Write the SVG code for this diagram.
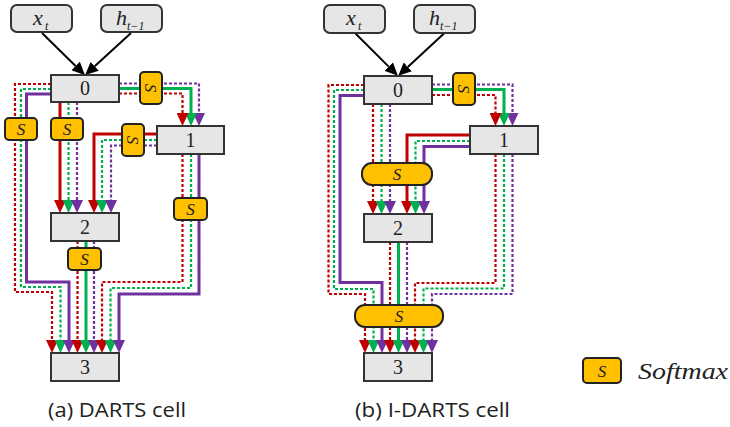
<svg xmlns="http://www.w3.org/2000/svg" width="730" height="427" viewBox="0 0 730 427">
<style>
.node rect{fill:#e6e6e6;stroke:#333;stroke-width:2}
.in rect{fill:#e6e6e6;stroke:#333;stroke-width:2}
.lbl{font-family:"Liberation Serif",serif;font-size:20px;fill:#222;text-anchor:middle}
.it{font-family:"Liberation Serif",serif;font-style:italic;fill:#222}
.sm rect{fill:#ffc000;stroke:#222;stroke-width:2}
.sm text{font-family:"Liberation Serif",serif;font-style:italic;font-size:17px;fill:#222;text-anchor:middle}
.e{fill:none}
.r{stroke:#c00000}.g{stroke:#00b050}.p{stroke:#7030a0}
.s{stroke-width:3}
.d{stroke-width:2.2;stroke-dasharray:3 2}
.r.a{marker-end:url(#ar)}.g.a{marker-end:url(#ag)}.p.a{marker-end:url(#ap)}
.blk{stroke:#000;stroke-width:2;fill:none;marker-end:url(#ab)}
.cap{font-family:"Open Sans","Liberation Sans",sans-serif;font-size:20px;fill:#222}
</style>
<defs>
<marker id="ar" viewBox="0 0 13 12" refX="0" refY="6" markerWidth="13" markerHeight="12" markerUnits="userSpaceOnUse" orient="auto"><path d="M0,0 L13,6 L0,12 z" fill="#c00000"/></marker>
<marker id="ag" viewBox="0 0 13 12" refX="0" refY="6" markerWidth="13" markerHeight="12" markerUnits="userSpaceOnUse" orient="auto"><path d="M0,0 L13,6 L0,12 z" fill="#00b050"/></marker>
<marker id="ap" viewBox="0 0 13 12" refX="0" refY="6" markerWidth="13" markerHeight="12" markerUnits="userSpaceOnUse" orient="auto"><path d="M0,0 L13,6 L0,12 z" fill="#7030a0"/></marker>
<marker id="ab" viewBox="0 0 13 12" refX="0" refY="6" markerWidth="13" markerHeight="12" markerUnits="userSpaceOnUse" orient="auto"><path d="M0,0 L13,6 L0,12 z" fill="#000"/></marker>
</defs>

<g id="connectors">
  <!-- (a) inputs -->
  <path class="blk" d="M42,33 L75.6,66"/>
  <path class="blk" d="M131,33 L94.7,66.3"/>
  <!-- (a) 0->1 -->
  <path class="e p d a" d="M119,83.5 H199 V113"/>
  <path class="e g s a" d="M119,88.5 H191 V113"/>
  <path class="e r d a" d="M119,93.5 H182.5 V113"/>
  <!-- (a) 0->2 -->
  <path class="e r s a" d="M60,102 V200"/>
  <path class="e g d a" d="M68.5,102 V200"/>
  <path class="e p d a" d="M77,102 V200"/>
  <!-- (a) 1->2 -->
  <path class="e r s a" d="M157,134 H94 V200"/>
  <path class="e g d a" d="M157,140 H102 V200"/>
  <path class="e p d a" d="M157,145.5 H111 V200"/>
  <!-- (a) 0->3 -->
  <path class="e r d a" d="M51,84 H15 V292 H52 V340"/>
  <path class="e g d a" d="M51,89 H21 V287 H60.5 V340"/>
  <path class="e p s a" d="M51,94 H26.5 V282 H69 V340"/>
  <!-- (a) 2->3 -->
  <path class="e r d a" d="M77.5,241 V340"/>
  <path class="e g s a" d="M86,241 V340"/>
  <path class="e p d a" d="M94,241 V340"/>
  <!-- (a) 1->3 -->
  <path class="e r d a" d="M182.5,154 V282 H102 V340"/>
  <path class="e g d a" d="M191,154 V288 H110.5 V340"/>
  <path class="e p s a" d="M199,154 V294 H119 V340"/>

  <!-- (b) inputs -->
  <path class="blk" d="M355,33 L388.7,66.6"/>
  <path class="blk" d="M444.5,33 L407.8,66.9"/>
  <!-- (b) 0->1 -->
  <path class="e p d a" d="M432,84.5 H512.5 V113"/>
  <path class="e g s a" d="M432,89.5 H504 V113"/>
  <path class="e r d a" d="M432,95 H495.5 V113"/>
  <!-- (b) 0->2 -->
  <path class="e r d a" d="M373,104 V201"/>
  <path class="e g d a" d="M381.5,104 V201"/>
  <path class="e p d a" d="M390,104 V201"/>
  <!-- (b) 1->2 -->
  <path class="e r s a" d="M470,135 H407 V201"/>
  <path class="e g d a" d="M470,141 H415.5 V201"/>
  <path class="e p s a" d="M470,146.5 H424 V201"/>
  <!-- (b) 0->3 -->
  <path class="e r d a" d="M364,85 H328.5 V294 H365 V340"/>
  <path class="e g d a" d="M364,90 H334 V289 H373.5 V340"/>
  <path class="e p s a" d="M364,95.5 H340 V282.5 H382 V340"/>
  <!-- (b) 2->3 -->
  <path class="e r d a" d="M390,242 V340"/>
  <path class="e g s a" d="M398.5,242 V340"/>
  <path class="e p d a" d="M407,242 V340"/>
  <!-- (b) 1->3 -->
  <path class="e r d a" d="M495.5,154 V283 H415 V340"/>
  <path class="e g d a" d="M504,154 V288.5 H423.5 V340"/>
  <path class="e p d a" d="M512.5,154 V294 H432 V340"/>
</g>

<!-- (a) nodes -->
<g id="a_xt" class="in"><rect x="11" y="5" width="61" height="27" rx="6"/><text class="it" x="33" y="25" font-size="22">x</text><text class="it" x="45" y="30" font-size="12">t</text></g>
<g id="a_ht" class="in"><rect x="101" y="5" width="61" height="27" rx="6"/><text class="it" x="116" y="25" font-size="22">h</text><text class="it" x="127" y="30" font-size="12">t−1</text></g>
<g id="a_n0" class="node"><rect x="51" y="75" width="68" height="27"/><text class="lbl" x="85" y="95">0</text></g>
<g id="a_n1" class="node"><rect x="157" y="126" width="67" height="28"/><text class="lbl" x="190.5" y="147">1</text></g>
<g id="a_n2" class="node"><rect x="51" y="213" width="68" height="28"/><text class="lbl" x="85" y="234">2</text></g>
<g id="a_n3" class="node"><rect x="51" y="353" width="68" height="28"/><text class="lbl" x="85" y="374">3</text></g>

<!-- (a) softmax -->
<g id="a_s01" class="sm"><rect x="140" y="72" width="22" height="32" rx="4"/><text transform="translate(151,88) rotate(90)" y="6">S</text></g>
<g id="a_s03" class="sm"><rect x="5" y="118" width="32" height="22" rx="4"/><text x="21" y="135">S</text></g>
<g id="a_s02" class="sm"><rect x="51" y="118" width="32" height="22" rx="4"/><text x="67" y="135">S</text></g>
<g id="a_s12" class="sm"><rect x="122" y="124" width="22" height="32" rx="4"/><text transform="translate(133,140) rotate(90)" y="6">S</text></g>
<g id="a_s13" class="sm"><rect x="174" y="198" width="33" height="22" rx="4"/><text x="190.5" y="215">S</text></g>
<g id="a_s23" class="sm"><rect x="68" y="248" width="33" height="22" rx="4"/><text x="84.5" y="265">S</text></g>

<!-- (b) nodes -->
<g id="b_xt" class="in"><rect x="324" y="5" width="61" height="28" rx="6"/><text class="it" x="346" y="25" font-size="22">x</text><text class="it" x="358" y="30" font-size="12">t</text></g>
<g id="b_ht" class="in"><rect x="414" y="5" width="61" height="28" rx="6"/><text class="it" x="429" y="25" font-size="22">h</text><text class="it" x="440" y="30" font-size="12">t−1</text></g>
<g id="b_n0" class="node"><rect x="364" y="76" width="68" height="28"/><text class="lbl" x="398" y="97">0</text></g>
<g id="b_n1" class="node"><rect x="470" y="126" width="68" height="28"/><text class="lbl" x="504" y="147">1</text></g>
<g id="b_n2" class="node"><rect x="364" y="214" width="68" height="28"/><text class="lbl" x="398" y="235">2</text></g>
<g id="b_n3" class="node"><rect x="364" y="353" width="68" height="28"/><text class="lbl" x="398" y="374">3</text></g>

<!-- (b) softmax -->
<g id="b_s01" class="sm"><rect x="453" y="73" width="22" height="32" rx="4"/><text transform="translate(464,89) rotate(90)" y="6">S</text></g>
<g id="b_s2" class="sm"><rect x="362" y="163" width="70" height="22" rx="10"/><text x="397" y="180">S</text></g>
<g id="b_s3" class="sm"><rect x="355" y="305" width="88" height="22" rx="10"/><text x="399" y="322">S</text></g>

<!-- legend -->
<g id="legend" class="sm"><rect x="583" y="358" width="38" height="25" rx="4"/><text x="602" y="377">S</text></g>
<text class="it" x="638" y="379" font-size="24" textLength="90" lengthAdjust="spacingAndGlyphs">Softmax</text>

<!-- captions -->
<text class="cap" x="48" y="417" textLength="138" lengthAdjust="spacingAndGlyphs">(a) DARTS cell</text>
<text class="cap" x="355" y="417" textLength="155" lengthAdjust="spacingAndGlyphs">(b) I-DARTS cell</text>
</svg>
